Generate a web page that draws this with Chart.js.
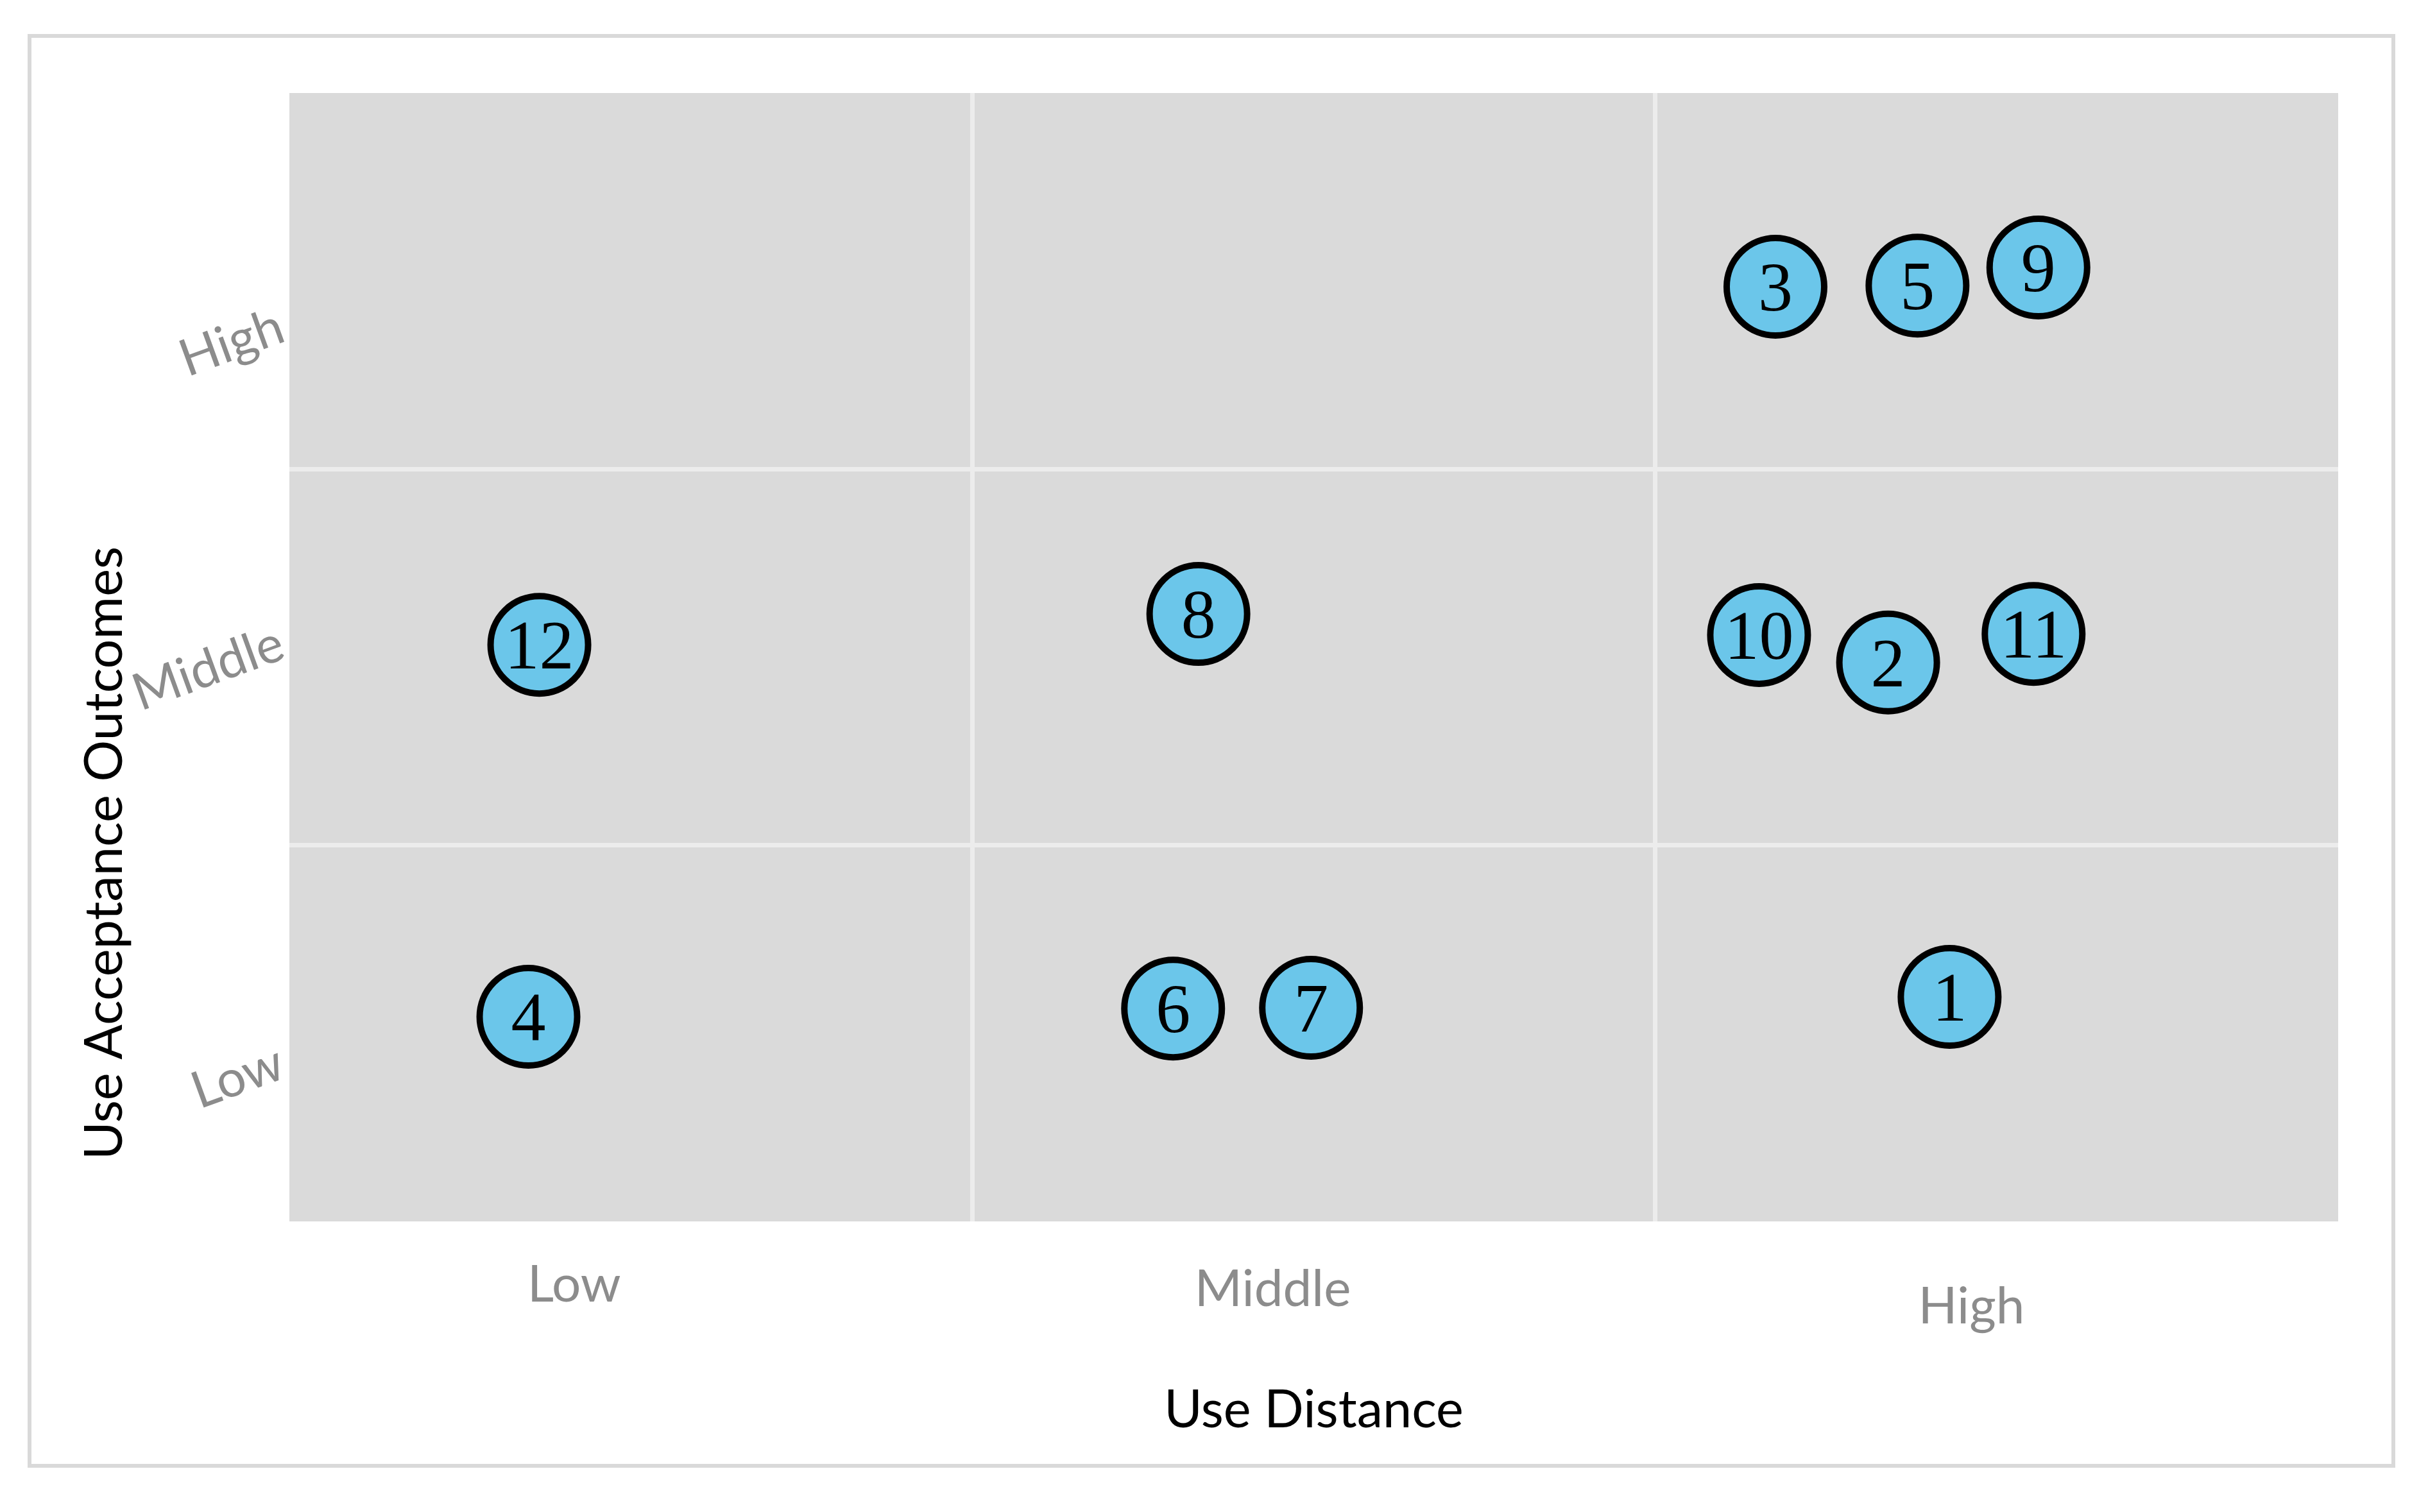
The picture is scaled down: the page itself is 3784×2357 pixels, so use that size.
<!DOCTYPE html>
<html>
<head>
<meta charset="utf-8">
<script src="https://cdn.jsdelivr.net/npm/chart.js@4/dist/chart.umd.min.js"></script>
<style>
	body { margin: 0; background: #fff; }
	#wrap { position: relative; width: 3784px; height: 2357px; }
	#frame { position: absolute; left: 43px; top: 53px; width: 3678px; height: 2223px; border: 6px solid #d9d9d9; }
	#chart { position: absolute; left: 0; top: 0; }
</style>
</head>
<body>
<div id="wrap">
	<div id="frame"></div>
	<canvas id="chart" width="3784" height="2357"></canvas>
</div>
<script>

/* Data */

var levelNames = [ "Low", "Middle", "High" ];
var xLabelAt = [ 0.417, 1.44, 2.463 ];
var yLabelAt = [ 0.425, 1.54, 2.383 ];

var caseIds = [ "1", "2", "3", "4", "5", "6", "7", "8", "9", "10", "11", "12" ];
var useDistance = [ 2.431, 2.341, 2.176, 0.350, 2.384, 1.294, 1.496, 1.331, 2.561, 2.152, 2.554, 0.366 ];
var useAcceptance = [ 0.597, 1.486, 2.485, 0.544, 2.488, 0.566, 0.568, 1.615, 2.536, 1.559, 1.562, 1.533 ];

/* Helpers */

function mixedTicks( labelAt ) {
	return function( scale ) {
		var ticks = [ 0, 1, 2, 3 ].concat( labelAt ).sort(function( a, b ){ return a - b ; });
		scale.ticks = ticks.map(function( v ){ return { value: v } ; });
	};
}

function tickName( labelAt ) {
	return function( value ) {
		var i = labelAt.indexOf( value );
		return i >= 0 ? levelNames[i] : "";
	};
}

function gridColor( ctx ) {
	var v = ctx.tick ? ctx.tick.value : -1;
	return ( v === 1 || v === 2 ) ? "#ececec" : "rgba(0,0,0,0)";
}

var xLineHeight = [ 1.2, 1.38, 2.05 ];

/* Plot background, case numbers, y title */

var quadrantPlugin = {
	id: "quadrant",
	beforeDraw: function( chart ) {
		var a = chart.chartArea, c = chart.ctx;
		c.save();
		c.fillStyle = "#dadada";
		c.fillRect( a.left, a.top, a.right - a.left, a.bottom - a.top );
		c.restore();
	},
	afterDatasetsDraw: function( chart ) {
		var c = chart.ctx, a = chart.chartArea;
		c.save();
		c.fillStyle = "#000";
		c.font = "108px 'Liberation Serif'";
		c.textAlign = "center";
		c.textBaseline = "alphabetic";
		chart.getDatasetMeta(0).data.forEach(function( el, i ){
			c.fillText( caseIds[i], el.x, el.y + 37 );
		});
		c.translate( a.left - 287, a.bottom - 574 );
		c.rotate( -Math.PI / 2 );
		c.font = "81px Lato";
		c.textBaseline = "middle";
		c.fillText( "Use Acceptance Outcomes", 0, 0 );
		c.restore();
	}
};

/* Chart */

Chart.defaults.font.family = "Lato";

var ctxmatrix = document.getElementById("chart").getContext('2d');
var myChart = new Chart(ctxmatrix, {
	type: 'scatter',
	data: {
		datasets: [{
			data: useDistance.map(function( x, i ){ return { x: x, y: useAcceptance[i] } ; }),
			backgroundColor: '#6bc6ea',
			borderColor: '#000',
			borderWidth: 10,
			pointRadius: 76,
			pointHoverRadius: 76
		}]
	},
	options: {
		responsive: false,
		devicePixelRatio: 1,
		animation: false,
		events: [],
		layout: { padding: { left: 61, top: 145, right: 140, bottom: 93 } },
		plugins: { legend: { display: false }, tooltip: { enabled: false } },
		scales: {
			x: {
				type: 'linear', min: 0, max: 3,
				afterBuildTicks: mixedTicks( xLabelAt ),
				afterFit: function( s ){ s.height = 360 ; },
				border: { display: false },
				grid: { color: gridColor, lineWidth: 7, drawTicks: false },
				ticks: {
					autoSkip: false, padding: 51, color: '#8c8c8c',
					maxRotation: 0, minRotation: 0,
					callback: tickName( xLabelAt ),
					font: function( ctx ) {
						var i = ctx.tick ? xLabelAt.indexOf( ctx.tick.value ) : -1;
						return { size: 80, lineHeight: i >= 0 ? xLineHeight[i] : 1.2 };
					}
				},
				title: {
					display: true, text: 'Use Distance', color: '#000',
					font: { size: 81 }, padding: { top: 0, bottom: 17 }
				}
			},
			y: {
				type: 'linear', min: 0, max: 3,
				afterBuildTicks: mixedTicks( yLabelAt ),
				afterFit: function( s ){ s.width = 390 ; },
				border: { display: false },
				grid: { color: gridColor, lineWidth: 7, drawTicks: false },
				ticks: {
					autoSkip: false, padding: 12, color: '#8c8c8c',
					minRotation: 20, maxRotation: 20,
					callback: tickName( yLabelAt ),
					font: { size: 80 }
				}
			}
		}
	},
	plugins: [ quadrantPlugin ]
});

</script>
</body>
</html>
